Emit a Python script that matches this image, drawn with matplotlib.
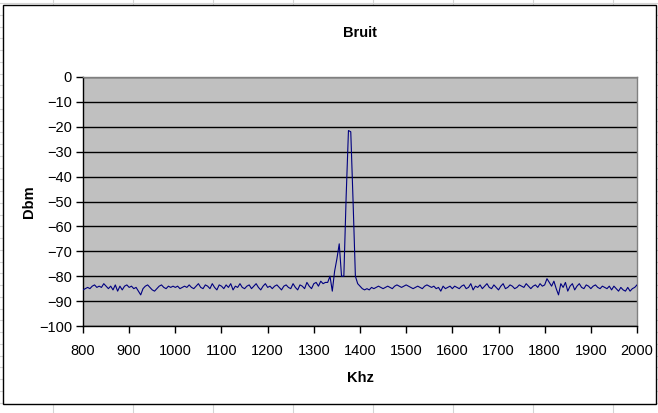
import matplotlib
matplotlib.use("Agg")
import matplotlib.pyplot as plt
from matplotlib.patches import Rectangle
from matplotlib.lines import Line2D
import numpy as np

W, H = 658, 413
NAVY = "#000080"
PLOT_BG = "#C0C0C0"
SHEET = "#D4D4D4"

plt.rcParams.update({"font.family": ["Liberation Sans", "DejaVu Sans"],
                     "font.size": 10})

# frequencies in kHz, one reading every 5 kHz
freq = np.arange(800, 2001, 5)

# levels (dBm)
noise_800_1195 = [
    -85.5, -85, -84.5, -85, -84, -83.5, -84.5, -84, -84.5, -83,
    -84, -85, -84, -85.5, -83.5, -86, -84, -85.5, -84, -83.5,
    -84.5, -84, -85, -84.5, -86, -87.5, -85, -84, -83.5, -84.5,
    -85.5, -86, -85, -84, -83.5, -84.5, -85, -84, -84.5, -84,
    -84.5, -84, -85, -84.5, -84, -84.5, -83.5, -84.5, -85, -84,
    -83, -84.5, -85, -83.5, -84, -85, -83, -84.5, -85.5, -83.5,
    -84, -85, -83.5, -84.5, -83, -85.5, -84, -84.5, -83, -84.5,
    -85, -84, -83.5, -85, -84, -83, -84.5, -85.5, -84, -83,
]
noise_1200_1325 = [
    -84.5, -84, -85, -84, -83.5, -84.5, -85.5, -84, -83.5, -84.5,
    -85, -83, -84.5, -85.5, -83.5, -84, -85, -82.5, -84, -85,
    -83, -82.5, -84, -82, -83, -82.5,
]
peak_1330_1400 = [-82.5, -80, -86, -78, -73, -67, -80, -80, -48, -21.5,
                  -22, -50, -80, -83, -84]
noise_1405_2000 = [
    -85, -85.5, -85, -85.5, -84.5, -85, -84.5, -84, -84.5, -85,
    -84.5, -84, -84.5, -85, -84, -83.5, -84, -84.5, -84, -83.5,
    -84, -84.5, -85, -84.5, -84, -84.5, -85, -84, -83.5, -84,
    -84.5, -84, -85, -84.5, -86, -84, -85, -84.5, -84, -85,
    -84, -84.5, -85, -84, -83.5, -85, -84.5, -83, -85.5, -84,
    -84.5, -83.5, -85, -84, -83, -84.5, -85, -83.5, -84.5, -85.5,
    -84, -83, -85, -84.5, -83.5, -84, -85, -84.5, -83.5, -84,
    -84.5, -83, -84, -85, -84, -83.5, -84.5, -83, -84, -83.5,
    -81, -82.5, -84, -82, -85, -87.5, -83, -84.5, -82.5, -86,
    -84, -83, -85.5, -84, -83, -84.5, -85, -83.5, -84, -85,
    -84, -83.5, -84.5, -85, -84, -84.5, -85, -84, -85.5, -84,
    -85, -86, -84.5, -85.5, -86, -84.5, -86, -85, -84.5, -83.5,
]
level = np.array(noise_800_1195 + noise_1200_1325 + peak_1330_1400 + noise_1405_2000)

fig = plt.figure(figsize=(W / 100, H / 100), dpi=100)
fig.patch.set_facecolor("white")

# spreadsheet cells behind the chart
for x in range(53, W, 80):
    fig.add_artist(Line2D([x / W, x / W], [0, 1], color=SHEET, lw=0.8, zorder=0))
for y in np.arange(3, H, 11.75):
    fig.add_artist(Line2D([0, 1], [1 - y / H, 1 - y / H], color=SHEET, lw=0.8, zorder=0))

# chart area
fig.add_artist(Rectangle((2.5 / W, 1 - 403.5 / H), 653.5 / W, 398.5 / H,
                         facecolor="white", edgecolor="black", lw=1.0, zorder=1))

ax = fig.add_axes([83 / W, 1 - 326 / H, 554 / W, 249 / H], zorder=2)
ax.set_facecolor(PLOT_BG)
ax.plot(freq, level, color=NAVY, lw=0.8, zorder=3)
ax.set_xlim(800, 2000)
ax.set_ylim(-100, 0)
ax.set_xticks(np.arange(800, 2001, 100))
ax.set_yticks(np.arange(-100, 1, 10))
ax.yaxis.grid(True, color="black", lw=1.0)
ax.set_axisbelow(True)

for s in ("top", "right"):
    ax.spines[s].set_color("#808080")
    ax.spines[s].set_linewidth(1.0)
for s in ("left", "bottom"):
    ax.spines[s].set_color("black")
    ax.spines[s].set_linewidth(1.0)
ax.tick_params(direction="out", length=5, width=1, colors="black",
               labelsize=10.5, pad=3)
ax.tick_params(axis="x", pad=8)

ax.set_title("Bruit", fontsize=10.5, fontweight="bold", pad=29)
ax.set_xlabel("Khz", fontsize=10.5, fontweight="bold", labelpad=9)
ax.set_ylabel("Dbm", fontsize=10.5, fontweight="bold", labelpad=2)

fig.savefig("out.png", dpi=100)
